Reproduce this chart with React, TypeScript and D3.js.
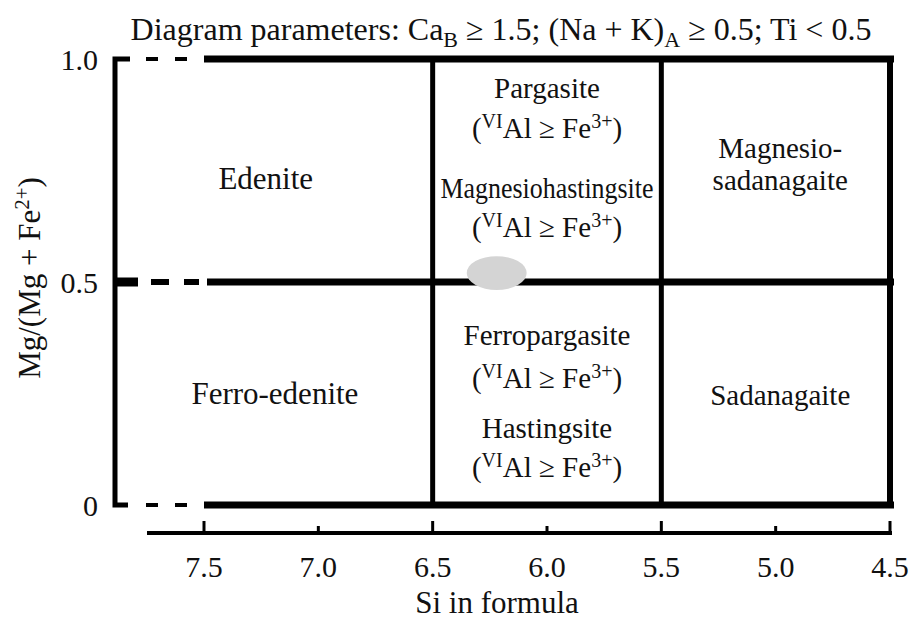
import React from "react";
import * as d3 from "d3";

// ---- data ----
const siBounds = [7.5, 6.5, 5.5, 4.5];
const mgBounds = [0, 0.5, 1];
const xTicks = [7.5, 7.0, 6.5, 6.0, 5.5, 5.0, 4.5];
const xMajor = [7.5, 6.5, 5.5, 4.5];
const yTicks = [0, 0.5, 1.0];
const yTickLabels = ["0", "0.5", "1.0"];

// field names: [name, Si, Mg#]
const fieldNames: [string, number, number][] = [
  ["Edenite", 7.23, 0.709],
  ["Ferro-edenite", 7.19, 0.226],
  ["Pargasite", 6.0, 0.913],
  ["Magnesiohastingsite", 6.0, 0.688],
  ["Ferropargasite", 6.0, 0.359],
  ["Hastingsite", 6.0, 0.15],
  ["Magnesio-", 4.98, 0.778],
  ["sadanagaite", 4.98, 0.706],
  ["Sadanagaite", 4.98, 0.224],
];
// condition labels (VIAl ≥ Fe3+): [Si, Mg#]
const conditionLabels: [number, number][] = [
  [6.0, 0.823],
  [6.0, 0.601],
  [6.0, 0.262],
  [6.0, 0.063],
];
// sample field (grey ellipse): centre and half-widths in data units
const sampleCenter = [6.22, 0.52];
const sampleRadius = [0.131, 0.038];

const FONT = '"Liberation Serif"';
const TS: React.CSSProperties = { fontFamily: FONT };

export default function App() {
  const W = 912;
  const H = 621;
  const x = d3.scaleLinear().domain([7.5, 4.5]).range([204, 890]);
  const y = d3.scaleLinear().domain([0, 1]).range([505, 59]);
  const axisX = 115;
  const xAxisY = 533;
  const txt = "#111";

  return (
    <svg width={W} height={H} style={{ position: "absolute", left: 0, top: 0, background: "#fff" }}>
      <rect width={W} height={H} fill="#fff" />
      {/* title */}
      <text x={501} y={40} fontSize={32} textAnchor="middle" fill={txt} style={TS}>
        Diagram parameters: Ca
        <tspan fontSize={22} dy={7}>B</tspan>
        <tspan dy={-7}> ≥ 1.5; (Na + K)</tspan>
        <tspan fontSize={22} dy={7}>A</tspan>
        <tspan dy={-7}> ≥ 0.5; Ti &lt; 0.5</tspan>
      </text>

      {/* y-axis bracket */}
      <path
        d={`M${axisX + 15},${y(1)} H${axisX} V${y(0)} H${axisX + 13}`}
        fill="none"
        stroke="#000"
        strokeWidth={5}
      />
      <line x1={axisX} x2={axisX + 23} y1={y(0.5)} y2={y(0.5)} stroke="#000" strokeWidth={9} />

      {/* dashed extensions */}
      {mgBounds.map((m) => (
        <line
          key={"d" + m}
          x1={axisX + 31}
          x2={x(7.5) - 10}
          y1={y(m)}
          y2={y(m)}
          stroke="#000"
          strokeWidth={m === 0.5 ? 6 : 4}
          strokeDasharray={m === 0.5 ? "18 15" : "12 17"}
          transform={m === 0.5 ? "translate(5,0)" : undefined}
        />
      ))}

      {/* horizontal boundaries */}
      {mgBounds.map((m) => (
        <line
          key={"h" + m}
          x1={x(7.5) + (m === 0.5 ? 3 : 0)}
          x2={x(4.5) + 4}
          y1={y(m)}
          y2={y(m)}
          stroke="#000"
          strokeWidth={7}
        />
      ))}
      {/* vertical boundaries */}
      {siBounds.slice(1).map((s) => (
        <line
          key={"v" + s}
          x1={x(s)}
          x2={x(s)}
          y1={y(1)}
          y2={y(0)}
          stroke="#000"
          strokeWidth={s === 4.5 ? 6 : 5}
        />
      ))}

      {/* sample ellipse */}
      <ellipse
        cx={x(sampleCenter[0])}
        cy={y(sampleCenter[1])}
        rx={Math.abs(x(sampleCenter[0] + sampleRadius[0]) - x(sampleCenter[0]))}
        ry={Math.abs(y(sampleCenter[1] + sampleRadius[1]) - y(sampleCenter[1]))}
        fill="#d4d4d4"
      />

      {/* x axis */}
      <line x1={x(7.5) - 57} x2={x(4.5) + 2} y1={xAxisY} y2={xAxisY} stroke="#000" strokeWidth={4} />
      {xTicks.map((t) => {
        const major = xMajor.includes(t);
        return (
          <line
            key={"t" + t}
            x1={x(t)}
            x2={x(t)}
            y1={xAxisY}
            y2={xAxisY - (major ? 12 : 7)}
            stroke="#000"
            strokeWidth={3}
          />
        );
      })}
      {xTicks.map((t) => (
        <text key={"tl" + t} x={x(t)} y={577} fontSize={30} textAnchor="middle" fill={txt} style={TS}>
          {d3.format(".1f")(t)}
        </text>
      ))}
      <text x={497} y={613} fontSize={31} textAnchor="middle" fill={txt} style={TS}>
        Si in formula
      </text>

      {/* y tick labels */}
      {yTicks.map((t, i) => (
        <text key={"yl" + t} x={98} y={y(t) + 11} fontSize={30} textAnchor="end" fill={txt} style={TS}>
          {yTickLabels[i]}
        </text>
      ))}
      <text
        transform={`translate(40,278) rotate(-90)`}
        fontSize={31}
        textAnchor="middle"
        fill={txt}
        style={TS}
      >
        Mg/(Mg + Fe
        <tspan fontSize={21} dy={-11}>2+</tspan>
        <tspan dy={11}>)</tspan>
      </text>

      {/* field names */}
      {fieldNames.map(([n, s, m]) => (
        <text
          key={n}
          x={x(s)}
          y={y(m)}
          fontSize={s > 7 ? 31 : 29}
          textAnchor="middle"
          fill={txt}
          style={TS}
          textLength={n === "Magnesiohastingsite" ? 213 : undefined}
          lengthAdjust={n === "Magnesiohastingsite" ? "spacingAndGlyphs" : undefined}
        >
          {n}
        </text>
      ))}
      {conditionLabels.map(([s, m], i) => (
        <text key={"c" + i} x={x(s)} y={y(m)} fontSize={29} textAnchor="middle" fill={txt} style={TS}>
          (<tspan fontSize={20} dy={-10}>VI</tspan>
          <tspan dy={10}>Al ≥ Fe</tspan>
          <tspan fontSize={20} dy={-10}>3+</tspan>
          <tspan dy={10}>)</tspan>
        </text>
      ))}
    </svg>
  );
}
